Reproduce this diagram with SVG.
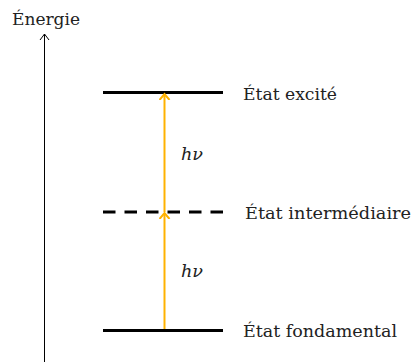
<svg xmlns="http://www.w3.org/2000/svg" width="413" height="362" viewBox="0 0 413 362">
<style>
.lbl{font-family:'DejaVu Serif','Liberation Serif',serif;font-size:16px;fill:#222}
.hv{font-family:'DejaVu Serif','Liberation Serif',serif;font-size:16px;font-style:italic;fill:#222}
.lvl{stroke:#000;stroke-width:3;fill:none}
.photon{stroke:#FFB200;stroke-width:2;fill:none}
</style>
<defs>
<marker id="ah" viewBox="-6 -6 12 12" markerWidth="12" markerHeight="12" refX="0" refY="0" orient="auto" markerUnits="userSpaceOnUse">
<path d="M-6,-5 L0,0 L-6,5" fill="none" stroke="#FFB200" stroke-width="2"/>
</marker>
<marker id="axh" viewBox="-6 -6 12 12" markerWidth="12" markerHeight="12" refX="0" refY="0" orient="auto" markerUnits="userSpaceOnUse">
<path d="M-6,-4.5 L0,0 L-6,4.5" fill="none" stroke="#000" stroke-width="1"/>
</marker>
</defs>
<g id="axis">
<line x1="44.5" y1="362" x2="44.5" y2="34" stroke="#000" stroke-width="1" marker-end="url(#axh)"/>
<text class="lbl" x="12" y="25" textLength="68" lengthAdjust="spacingAndGlyphs">Énergie</text>
</g>
<g id="excited">
<line class="lvl" x1="103" y1="92.5" x2="223" y2="92.5"/>
<text class="lbl" x="243" y="100" textLength="94" lengthAdjust="spacingAndGlyphs">État excité</text>
</g>
<g id="intermediate">
<line class="lvl" x1="103" y1="212" x2="223" y2="212" stroke-dasharray="12.5 9"/>
<text class="lbl" x="245" y="219" textLength="166" lengthAdjust="spacingAndGlyphs">État intermédiaire</text>
</g>
<g id="ground">
<line class="lvl" x1="103" y1="330.5" x2="223" y2="330.5"/>
<text class="lbl" x="243" y="337" textLength="154" lengthAdjust="spacingAndGlyphs">État fondamental</text>
</g>
<g id="connectors">
<line class="photon" x1="164.5" y1="329" x2="164.5" y2="213" marker-end="url(#ah)"/>
<line class="photon" x1="164.5" y1="212" x2="164.5" y2="94" marker-end="url(#ah)"/>
<text class="hv" x="181" y="160" textLength="22" lengthAdjust="spacingAndGlyphs">hν</text>
<text class="hv" x="181" y="277" textLength="22" lengthAdjust="spacingAndGlyphs">hν</text>
</g>
</svg>
